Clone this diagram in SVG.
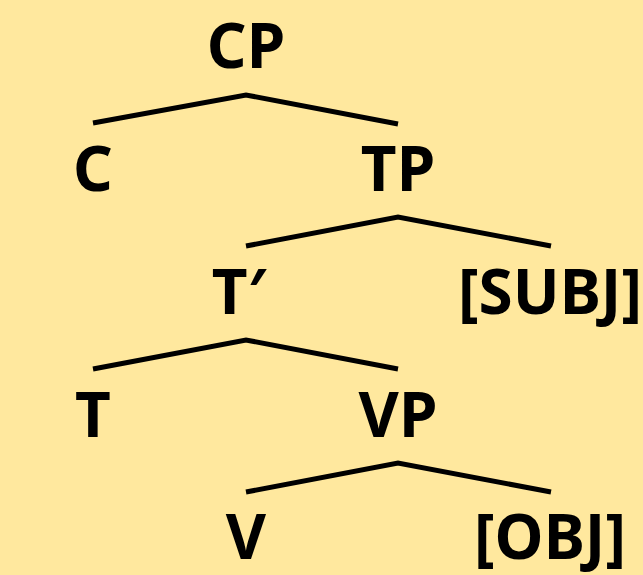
<svg xmlns="http://www.w3.org/2000/svg" width="643" height="575" viewBox="0 0 643 575">
<style>
.lbl{font-family:"Noto Sans","Open Sans","DejaVu Sans",sans-serif;font-weight:bold;font-size:62px;fill:#000;text-anchor:middle}
.edge{fill:none;stroke:#000;stroke-width:5;stroke-linejoin:miter}
</style>
<rect width="643" height="575" fill="#FFE89E"/>
<g id="connectors">
<polyline class="edge" points="93,123 246,95 398,124"/>
<polyline class="edge" points="246,246 398,217 551,246"/>
<polyline class="edge" points="93,369 246,340 398,369"/>
<polyline class="edge" points="246,492 398,463 551,492"/>
</g>
<g id="CP"><text class="lbl" x="246" y="68">CP</text></g>
<g id="C"><text class="lbl" x="93" y="191">C</text></g>
<g id="TP"><text class="lbl" x="398" y="191">TP</text></g>
<g id="Tbar"><text class="lbl" y="314"><tspan x="239">T</tspan><tspan>′</tspan></text></g>
<g id="SUBJ"><text class="lbl" x="550" y="314">[SUBJ]</text></g>
<g id="T"><text class="lbl" x="93" y="437">T</text></g>
<g id="VP"><text class="lbl" x="398" y="437">VP</text></g>
<g id="V"><text class="lbl" x="246" y="559">V</text></g>
<g id="OBJ"><text class="lbl" x="550" y="559">[OBJ]</text></g>
</svg>
